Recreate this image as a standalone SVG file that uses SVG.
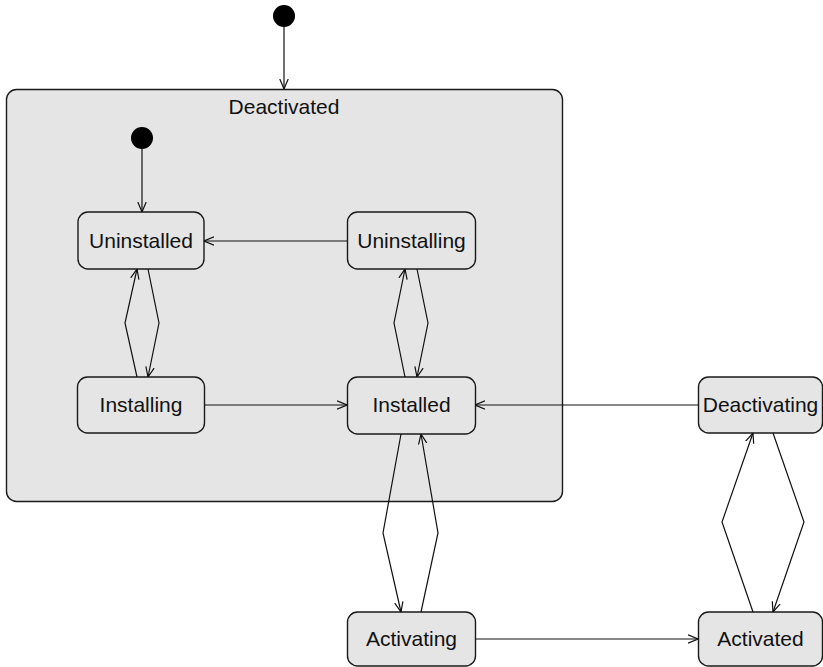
<svg xmlns="http://www.w3.org/2000/svg" width="823" height="667" viewBox="0 0 823 667">
  <style>
    .state { fill: #e5e5e5; stroke: #1a1a1a; stroke-width: 1.4; }
    .init { fill: #000; }
    .label { font-family: "Liberation Sans", Arial, sans-serif; font-size: 21px; fill: #111; text-anchor: middle; }
    .edge { fill: none; stroke: #111; stroke-width: 1.2; marker-end: url(#open); }
  </style>
  <defs>
    <marker id="open" viewBox="0 0 10 10" refX="10" refY="5" markerWidth="10" markerHeight="10" markerUnits="userSpaceOnUse" orient="auto">
      <path d="M0,0.8 L10,5 L0,9.2" fill="none" stroke="#111" stroke-width="1.2"/>
    </marker>
  </defs>
  <rect width="823" height="667" fill="#fff"/>

  <g id="start-outer">
    <circle class="init" cx="284" cy="16" r="11"/>
  </g>

  <g id="deactivated">
    <rect class="state" x="6.5" y="89.5" width="556" height="412" rx="10"/>
    <text class="label" x="284" y="114">Deactivated</text>
  </g>

  <g id="start-inner">
    <circle class="init" cx="142" cy="138" r="11"/>
  </g>

  <g id="uninstalled">
    <rect class="state" x="78" y="212" width="126" height="57" rx="10"/>
    <text class="label" x="141" y="248">Uninstalled</text>
  </g>
  <g id="uninstalling">
    <rect class="state" x="347.5" y="212" width="128" height="57" rx="10"/>
    <text class="label" x="411.5" y="248">Uninstalling</text>
  </g>
  <g id="installing">
    <rect class="state" x="77.5" y="377" width="127" height="56" rx="10"/>
    <text class="label" x="141" y="412">Installing</text>
  </g>
  <g id="installed">
    <rect class="state" x="347.5" y="377" width="128" height="57" rx="10"/>
    <text class="label" x="411.5" y="412">Installed</text>
  </g>
  <g id="deactivating">
    <rect class="state" x="698.5" y="377" width="124" height="56" rx="10"/>
    <text class="label" x="760.5" y="412">Deactivating</text>
  </g>
  <g id="activating">
    <rect class="state" x="347.5" y="612" width="128" height="54" rx="10"/>
    <text class="label" x="411.5" y="646">Activating</text>
  </g>
  <g id="activated">
    <rect class="state" x="698.5" y="612" width="124" height="54" rx="10"/>
    <text class="label" x="760.5" y="646">Activated</text>
  </g>

  <g id="connectors">
    <path class="edge" d="M284,27 L284,89"/>
    <path class="edge" d="M142,149 L142,212"/>
    <path class="edge" d="M347,241 L204,241"/>
    <path class="edge" d="M205,405 L347,405"/>
    <path class="edge" d="M698,405 L475,405"/>
    <path class="edge" d="M475,639 L698,639"/>
    <!-- Uninstalled / Installing -->
    <path class="edge" d="M137,377 L125,323 L137,269"/>
    <path class="edge" d="M148,269 L159,323 L148,377"/>
    <!-- Uninstalling / Installed -->
    <path class="edge" d="M405,377 L394,323 L405,269"/>
    <path class="edge" d="M417,269 L428,323 L417,377"/>
    <!-- Installed / Activating -->
    <path class="edge" d="M401,434 L383,533 L401,612"/>
    <path class="edge" d="M421,612 L438,533 L421,434"/>
    <!-- Deactivating / Activated -->
    <path class="edge" d="M753,612 L722,522 L753,433"/>
    <path class="edge" d="M773,433 L804,522 L773,612"/>
  </g>
</svg>
